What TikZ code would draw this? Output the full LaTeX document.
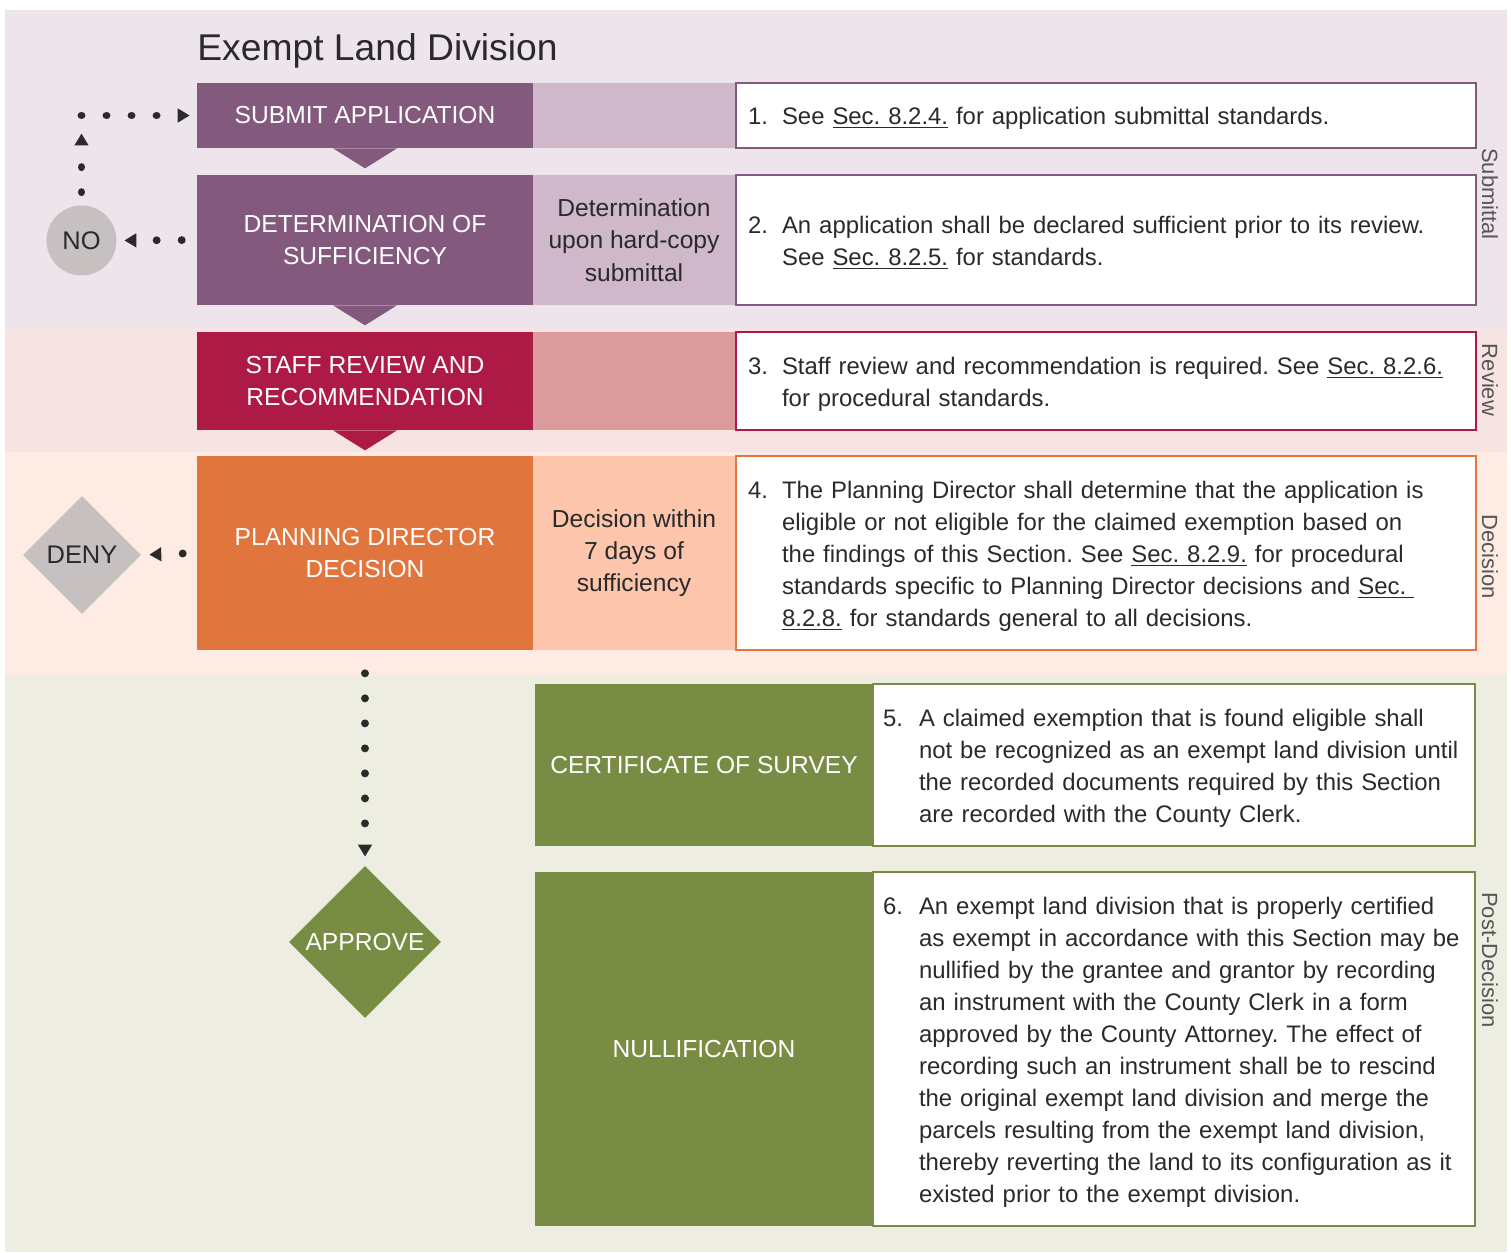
\documentclass[tikz,border=0pt]{standalone}
\usepackage{fontspec}
\setmainfont{Liberation Sans}
\usetikzlibrary{shapes.geometric,arrows.meta}
\frenchspacing

\definecolor{plum}{HTML}{835A7E}
\definecolor{plumlight}{HTML}{CEB8CA}
\definecolor{plumband}{HTML}{EEE4EC}
\definecolor{revred}{HTML}{AD1A45}
\definecolor{revredlight}{HTML}{DB9A9B}
\definecolor{revband}{HTML}{F6E4E3}
\definecolor{decorange}{HTML}{E1753E}
\definecolor{decorangelight}{HTML}{FCC5AC}
\definecolor{decband}{HTML}{FDEBE4}
\definecolor{postgreen}{HTML}{798C43}
\definecolor{postband}{HTML}{EEEDE2}
\definecolor{stopgray}{HTML}{C6C1C0}
\definecolor{ink}{HTML}{2A2A2A}
\definecolor{sidegray}{HTML}{555555}

\tikzset{
  stepbox/.style={inner sep=0pt, align=center, text=white,
    font=\fontsize{14}{18.6}\selectfont, minimum width=6.72cm},
  timebox/.style={inner sep=0pt, align=center, text=ink,
    font=\fontsize{14}{18.4}\selectfont, minimum width=4.04cm},
  notebox/.style={draw, line width=1.4pt, fill=white, inner xsep=0.24cm,
    inner ysep=0pt, align=left, text=ink, text width=14.32cm,
    font=\fontsize{13.6}{18.2}\selectfont,
    execute at begin node=\vspace*{-0.12cm}},
  postnote/.style={notebox, inner xsep=0.2cm, text width=11.64cm},
  sidelabel/.style={rotate=-90, text=sidegray, font=\fontsize{12.5}{15}\selectfont},
  dotflow/.style={line width=4.5pt, line cap=round, ink,
    dash pattern=on 0.01pt off 0.5cm,
    -{Triangle[length=6.8pt,width=7.6pt]}}
}

\begin{document}
\begin{tikzpicture}[x=0.02cm,y=-0.02cm]
        \useasboundingbox (0,0) rectangle (1511,1253);

        % bands
        \fill[plumband] (5,10) rectangle (1507,328);
        \fill[revband] (5,328) rectangle (1507,452);
        \fill[decband] (5,452) rectangle (1507,675);
        \fill[postband] (5,675) rectangle (1507,1252);

        \draw (197,61) node[anchor=base west,inner sep=0pt,text=ink,font=\fontsize{21.2}{25}\selectfont] (title) {Exempt Land Division};

        % submittal
        \draw (365,115.5) node[stepbox,fill=plum,minimum height=1.3cm] (sub) {SUBMIT APPLICATION};
        \draw (634,115.5) node[timebox,fill=plumlight,minimum height=1.3cm] (subt) {};
        \draw (1106,115.5) node[notebox,draw=plum,minimum height=1.3cm] (subn) {%
          \begin{tabular}{@{}p{0.68cm}@{}l@{}}
          1. & See \underline{Sec. 8.2.4.} for application submittal standards.
          \end{tabular}};

        \draw (365,240) node[stepbox,fill=plum,minimum height=2.6cm] (det) {DETERMINATION OF\\SUFFICIENCY};
        \draw (634,240) node[timebox,fill=plumlight,minimum height=2.6cm] (dett) {Determination\\upon hard-copy\\submittal};
        \draw (1106,240) node[notebox,draw=plum,minimum height=2.6cm] (detn) {%
          \begin{tabular}{@{}p{0.68cm}@{}l@{}}
          2. & An application shall be declared sufficient prior to its review.\\
             & See \underline{Sec. 8.2.5.} for standards.
          \end{tabular}};

        % review
        \draw (365,381) node[stepbox,fill=revred,minimum height=1.96cm] (rev) {STAFF REVIEW AND\\RECOMMENDATION};
        \draw (634,381) node[timebox,fill=revredlight,minimum height=1.96cm] (revt) {};
        \draw (1106,381) node[notebox,draw=revred,minimum height=1.96cm] (revn) {%
          \begin{tabular}{@{}p{0.68cm}@{}l@{}}
          3. & Staff review and recommendation is required. See \underline{Sec. 8.2.6.}\\
             & for procedural standards.
          \end{tabular}};

        % decision
        \draw (365,553) node[stepbox,fill=decorange,minimum height=3.88cm] (plan) {PLANNING DIRECTOR\\DECISION};
        \draw (634,553) node[timebox,fill=decorangelight,minimum height=3.88cm] (plant) {Decision within\\7 days of\\sufficiency};
        \draw (1106,553) node[notebox,draw=decorange,minimum height=3.88cm] (plann) {%
          \begin{tabular}{@{}p{0.68cm}@{}l@{}}
          4. & The Planning Director shall determine that the application is\\
             & eligible or not eligible for the claimed exemption based on\\
             & the findings of this Section. See \underline{Sec. 8.2.9.} for procedural\\
             & standards specific to Planning Director decisions and \underline{Sec.~}\\
             & \underline{8.2.8.} for standards general to all decisions.
          \end{tabular}};

        % post-decision
        \draw (704,765) node[stepbox,fill=postgreen,minimum width=6.76cm,minimum height=3.24cm] (cert) {CERTIFICATE OF SURVEY};
        \draw (1174,765) node[postnote,draw=postgreen,minimum height=3.24cm] (certn) {%
          \begin{tabular}{@{}p{0.72cm}@{}l@{}}
          5. & A claimed exemption that is found eligible shall\\
             & not be recognized as an exempt land division until\\
             & the recorded documents required by this Section\\
             & are recorded with the County Clerk.
          \end{tabular}};

        \draw (704,1049) node[stepbox,fill=postgreen,minimum width=6.76cm,minimum height=7.08cm] (null) {NULLIFICATION};
        \draw (1174,1049) node[postnote,draw=postgreen,minimum height=7.08cm] (nulln) {%
          \begin{tabular}{@{}p{0.72cm}@{}l@{}}
          6. & An exempt land division that is properly certified\\
             & as exempt in accordance with this Section may be\\
             & nullified by the grantee and grantor by recording\\
             & an instrument with the County Clerk in a form\\
             & approved by the County Attorney. The effect of\\
             & recording such an instrument shall be to rescind\\
             & the original exempt land division and merge the\\
             & parcels resulting from the exempt land division,\\
             & thereby reverting the land to its configuration as it\\
             & existed prior to the exempt division.
          \end{tabular}};

        % side labels
        \draw (1490,194) node[sidelabel] (lsub) {Submittal};
        \draw (1490,380) node[sidelabel] (lrev) {Review};
        \draw (1490,557) node[sidelabel] (ldec) {Decision};
        \draw (1490,960) node[sidelabel] (lpost) {Post-Decision};

        % outcomes
        \draw (81.5,240.5) node[circle,fill=stopgray,minimum size=1.4cm,inner sep=0pt,text=ink,font=\fontsize{14.5}{17}\selectfont] (no) {NO};
        \draw (82,555) node[diamond,aspect=1,fill=stopgray,minimum width=2.36cm,minimum height=2.36cm,inner sep=0pt,text=ink,font=\fontsize{14.5}{17}\selectfont] (deny) {DENY};
        \draw (365,942) node[diamond,aspect=1,fill=postgreen,minimum width=3.04cm,minimum height=3.04cm,inner sep=0pt,text=white,font=\fontsize{14}{17}\selectfont] (approve) {APPROVE};

        % step pointers
        \fill[plum] (sub.south) ++(-32,0) -- ++(64,0) -- ++(-32,20) -- cycle;
        \fill[plum] (det.south) ++(-32,0) -- ++(64,0) -- ++(-32,20) -- cycle;
        \fill[revred] (rev.south) ++(-32,0) -- ++(64,0) -- ++(-32,20) -- cycle;

        % dotted flows
        \coordinate (turn) at (no.north |- sub.west);
        \draw[dotflow,shorten <=0.26cm,shorten >=0.36cm] (no.north) -- (turn);
        \draw[dotflow,shorten >=0.14cm] (turn) -- (sub.west);
        \draw[dotflow,shorten <=0.3cm,shorten >=0.15cm] (det.west) -- (no.east);
        \draw[dotflow,shorten <=0.28cm,shorten >=0.16cm] (plan.west) -- (deny.east);
        \draw[dotflow,shorten <=0.46cm,shorten >=0.18cm] (plan.south) -- (approve.north);
\end{tikzpicture}
\end{document}
